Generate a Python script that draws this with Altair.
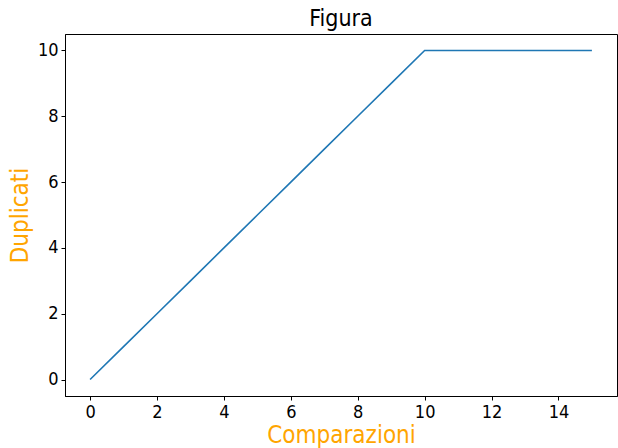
import altair as alt
import pandas as pd

comparazioni = [0, 1, 2, 3, 4, 5, 6, 7, 8, 9, 10, 11, 12, 13, 14, 15]
duplicati = [0, 1, 2, 3, 4, 5, 6, 7, 8, 9, 10, 10, 10, 10, 10, 10]
x_ticks = [0, 2, 4, 6, 8, 10, 12, 14]
y_ticks = [0, 2, 4, 6, 8, 10]

df = pd.DataFrame({"Comparazioni": comparazioni, "Duplicati": duplicati})

font = "DejaVu Sans Condensed"

chart = alt.Chart(df).mark_line(color="#1f77b4", strokeWidth=1.6).encode(
    x=alt.X("Comparazioni:Q",
            scale=alt.Scale(domain=[-0.75, 15.75], nice=False, zero=False),
            axis=alt.Axis(values=x_ticks, title="Comparazioni", grid=False,
                          titleColor="orange", titleFontSize=24, titleFontWeight="normal",
                          titleFont=font, labelFont=font, labelFontSize=18, labelColor="black",
                          tickColor="black", domainColor="black", tickSize=4,
                          labelPadding=3, titlePadding=2)),
    y=alt.Y("Duplicati:Q",
            scale=alt.Scale(domain=[-0.5, 10.5], nice=False, zero=False),
            axis=alt.Axis(values=y_ticks, title="Duplicati", grid=False,
                          titleColor="orange", titleFontSize=24, titleFontWeight="normal",
                          titleFont=font, labelFont=font, labelFontSize=18, labelColor="black",
                          tickColor="black", domainColor="black", tickSize=4,
                          labelPadding=3, titlePadding=5)),
).properties(
    width=552, height=362,
    background="white",
    title=alt.TitleParams("Figura", font=font, fontSize=23, fontWeight="normal",
                          color="black", anchor="middle", offset=3),
    padding={"left": 65, "top": 34, "right": 1, "bottom": 52},
    autosize="none",
).configure_view(stroke="black", strokeWidth=1)

chart.save("out.html", embed_options={"renderer": "svg", "actions": False})
